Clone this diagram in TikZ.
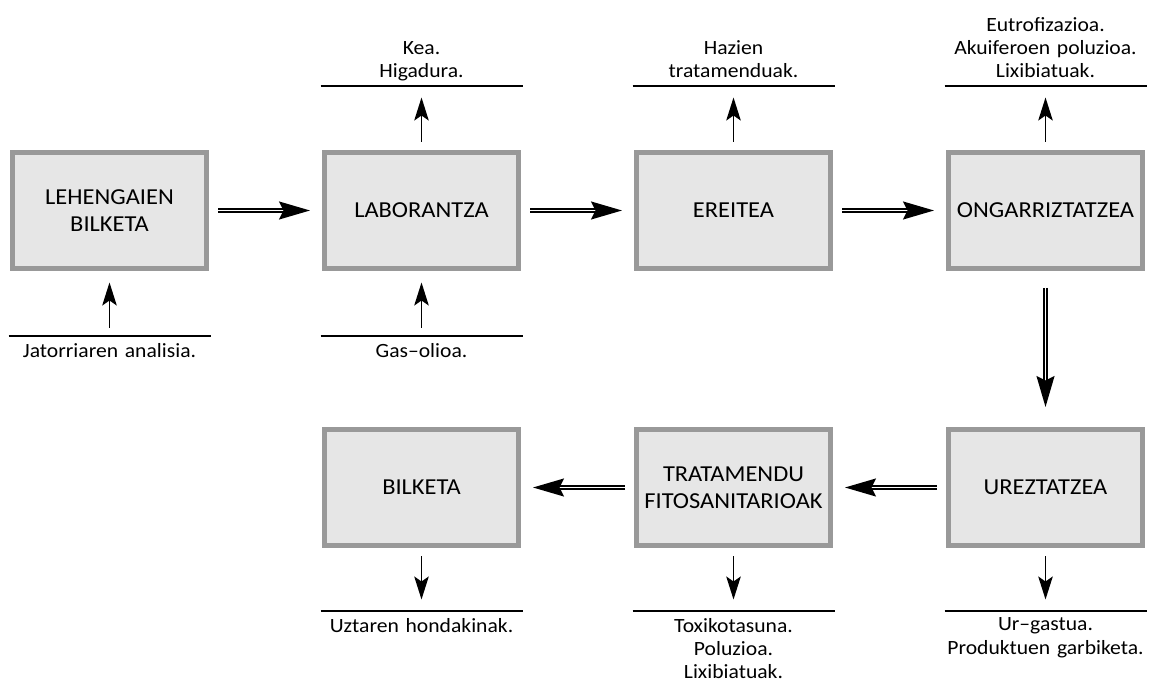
\documentclass[tikz,border=0pt]{standalone}
\usepackage{fontspec}
\setmainfont{Carlito}[FakeStretch=1.07]
\usetikzlibrary{positioning,arrows.meta}
\definecolor{boxfill}{HTML}{E6E6E6}
\definecolor{boxline}{HTML}{999999}

\begin{document}
\begin{tikzpicture}[
  node distance=2.26cm,
  stage/.style={draw=boxline, fill=boxfill, line width=0.1cm, minimum width=3.88cm, minimum height=2.32cm, align=center, font=\fontsize{13}{15.3}\selectfont},
  note/.style={text width=4.04cm, align=center, inner xsep=0pt, outer sep=0pt, font=\fontsize{11.5}{13.2}\selectfont},
  notetop/.style={note, inner ysep=2.6pt, execute at end node={\vphantom{g}}},
  notebot/.style={note, inner ysep=4pt},
  rule/.style={line width=1pt},
  arr/.style={-{Stealth[length=4.6mm, width=2.9mm, inset=1mm]}, line width=1pt, shorten <=1.6mm, shorten >=2.3mm},
  dbl/.style={double, double distance=1.1pt, line width=0.95pt, -{Stealth[length=6.2mm, width=3.6mm, inset=0.9mm]}, shorten <=1.8mm, shorten >=2.4mm}
]
\useasboundingbox (0,0) rectangle (23.04,13.74);

% process stages
\node[stage] (gather) at (2.19,9.53) {LEHENGAIEN\\BILKETA};
\node[stage, right=of gather] (till) {LABORANTZA};
\node[stage, right=of till] (sow) {EREITEA};
\node[stage, right=of sow] (fert) {ONGARRIZTATZEA};
\node[stage, below=3.12cm of fert] (irrig) {UREZTATZEA};
\node[stage, left=of irrig] (phyto) {TRATAMENDU\\FITOSANITARIOAK};
\node[stage, left=of phyto] (harv) {BILKETA};

% inputs and impacts
\node[notetop, above=1.28cm of till] (tillout) {Kea.\\Higadura.};
\node[notetop, above=1.28cm of sow] (sowout) {Hazien\\tratamenduak.};
\node[notetop, above=1.28cm of fert] (fertout) {Eutrofizazioa.\\Akuiferoen poluzioa.\\Lixibiatuak.};
\node[notebot, below=1.3cm of gather] (gatherin) {Jatorriaren analisia.};
\node[notebot, below=1.3cm of till] (tillin) {Gas–olioa.};
\node[notebot, below=1.26cm of harv] (harvout) {Uztaren hondakinak.};
\node[notebot, below=1.26cm of phyto] (phytoout) {Toxikotasuna.\\Poluzioa.\\Lixibiatuak.};
\node[notebot, below=1.26cm of irrig] (irrigout) {Ur–gastua.\\Produktuen garbiketa.};

\draw[rule] (tillout.south west) -- (tillout.south east);
\draw[rule] (sowout.south west) -- (sowout.south east);
\draw[rule] (fertout.south west) -- (fertout.south east);
\draw[rule] (gatherin.north west) -- (gatherin.north east);
\draw[rule] (tillin.north west) -- (tillin.north east);
\draw[rule] (harvout.north west) -- (harvout.north east);
\draw[rule] (phytoout.north west) -- (phytoout.north east);
\draw[rule] (irrigout.north west) -- (irrigout.north east);

% flow
\draw[dbl] (gather) -- (till);
\draw[dbl] (till) -- (sow);
\draw[dbl] (sow) -- (fert);
\draw[dbl, shorten <=3.4mm, shorten >=4mm] (fert) -- (irrig);
\draw[dbl] (irrig) -- (phyto);
\draw[dbl] (phyto) -- (harv);

\draw[arr] (till) -- (tillout);
\draw[arr] (sow) -- (sowout);
\draw[arr] (fert) -- (fertout);
\draw[arr] (gatherin) -- (gather);
\draw[arr] (tillin) -- (till);
\draw[arr] (harv) -- (harvout);
\draw[arr] (phyto) -- (phytoout);
\draw[arr] (irrig) -- (irrigout);
\end{tikzpicture}
\end{document}
